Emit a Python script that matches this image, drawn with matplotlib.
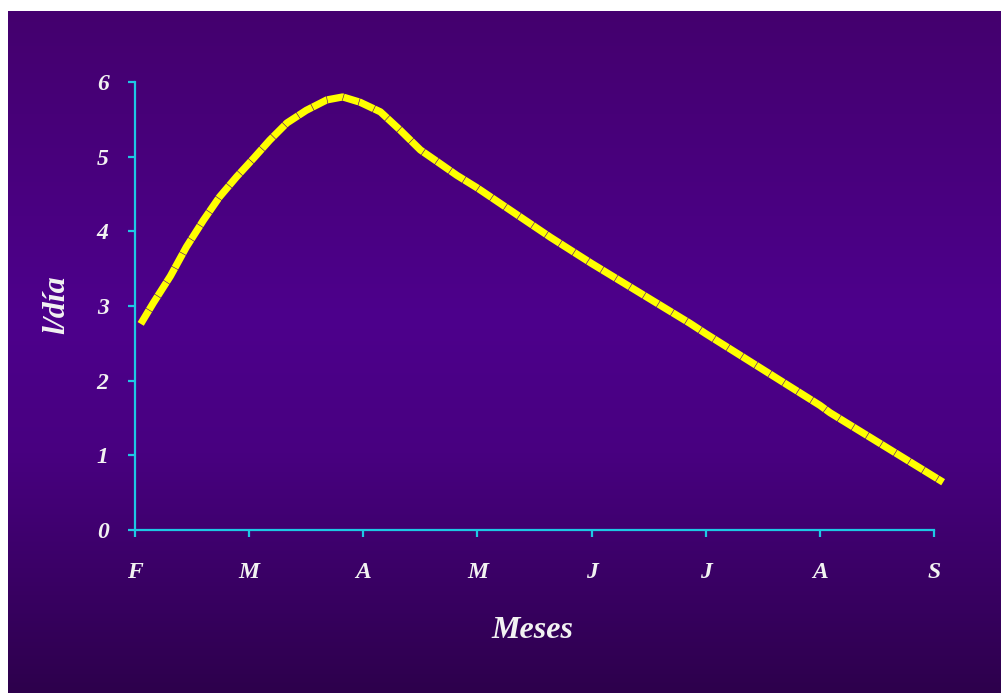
import numpy as np
import matplotlib.pyplot as plt
from matplotlib.colors import LinearSegmentedColormap

# months from February (0) to September (7)
meses = ["F", "M", "A", "M", "J", "J", "A", "S"]
mes_pos = [0, 1, 2, 3, 4, 5, 6, 7]

# litres per day along the lactation
t = [0.05, 0.16, 0.31, 0.45, 0.60, 0.74, 0.89, 1.04, 1.18, 1.33, 1.50, 1.68,
     1.82, 1.97, 2.15, 2.32, 2.50, 2.67, 2.82, 3.00, 3.64, 4.00, 4.86, 5.00,
     6.00, 6.09, 7.08]
litros = [2.76, 3.04, 3.40, 3.79, 4.15, 4.46, 4.73, 4.98, 5.22, 5.45, 5.62, 5.76,
          5.80, 5.73, 5.60, 5.36, 5.09, 4.91, 4.75, 4.58, 3.92, 3.57, 2.77, 2.63,
          1.67, 1.57, 0.64]

cian = "#1ec8e4"
texto = "#f2f2f2"

fig = plt.figure(figsize=(10.01, 6.93), dpi=100, facecolor="white")

# purple gradient panel
bg = fig.add_axes([8 / 1001, 0, 1 - 8 / 1001, (693 - 11) / 693])
bg.set_axis_off()
grad = LinearSegmentedColormap.from_list(
    "fondo",
    [(0.0, (68 / 255, 0, 110 / 255)),
     (0.45, (77 / 255, 0, 140 / 255)),
     (0.65, (72 / 255, 0, 128 / 255)),
     (1.0, (45 / 255, 0, 76 / 255))])
bg.imshow(np.linspace(0, 1, 256).reshape(-1, 1), aspect="auto", cmap=grad,
          extent=[0, 1, 0, 1])

ax = fig.add_axes([135 / 1001, (693 - 530) / 693, (934 - 135) / 1001, (530 - 82) / 693])
ax.patch.set_alpha(0)
ax.plot(t, litros, color="#ffff00", lw=5.2, clip_on=False,
        solid_capstyle="butt", dash_capstyle="butt", linestyle=(0, (2.2, 0.08)))

ax.set_xlim(0, 7)
ax.set_ylim(0, 6)
ax.set_xticks(mes_pos)
ax.set_xticklabels(meses)
ax.set_yticks(range(7))

for s in ["top", "right"]:
    ax.spines[s].set_visible(False)
for s in ["left", "bottom"]:
    ax.spines[s].set_color(cian)
    ax.spines[s].set_linewidth(1.6)

ax.tick_params(axis="y", direction="out", length=5, width=1.6, color=cian, pad=14)
ax.tick_params(axis="x", direction="out", length=5, width=1.6, color=cian, pad=18)
for lab in ax.get_xticklabels() + ax.get_yticklabels():
    lab.set_family("Liberation Serif")
    lab.set_style("italic")
    lab.set_weight("bold")
    lab.set_size(17)
    lab.set_color(texto)

fig.text(57 / 1001, 1 - 305 / 693, "l/día", rotation=90, ha="center", va="center",
         family="Liberation Serif", style="italic", weight="bold", size=23, color=texto)
fig.text(532 / 1001, 1 - 630 / 693, "Meses", ha="center", va="center",
         family="Liberation Serif", style="italic", weight="bold", size=23, color=texto)

fig.savefig("out.png", dpi=100, facecolor="white")
